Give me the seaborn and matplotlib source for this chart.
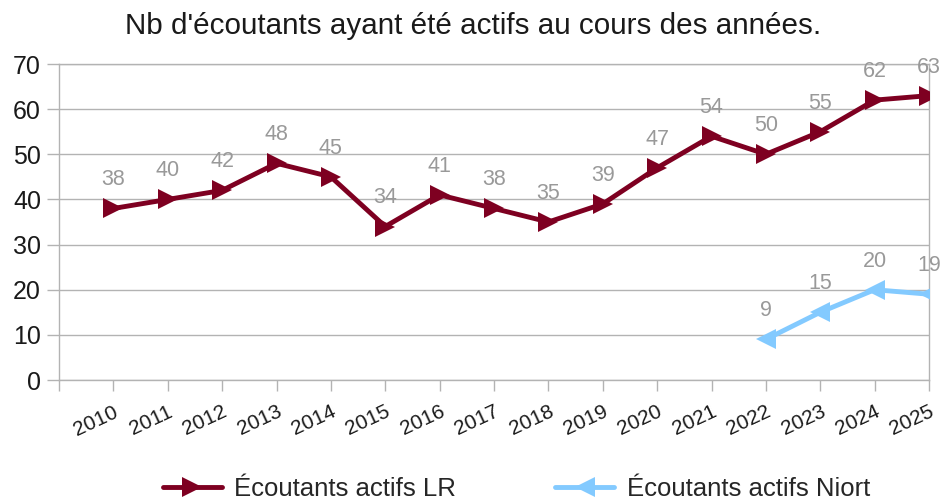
import matplotlib
matplotlib.use('Agg')
import matplotlib.pyplot as plt
import pandas as pd
import numpy as np
import seaborn as sns

years = [str(y) for y in range(2010, 2026)]
lr_values = [38, 40, 42, 48, 45, 34, 41, 38, 35, 39, 47, 54, 50, 55, 62, 63]
niort_values = [np.nan] * 12 + [9, 15, 20, 19]
series_names = ["Écoutants actifs LR", "Écoutants actifs Niort"]
title = "Nb d'écoutants ayant été actifs au cours des années."

sns.set_theme(style='white')
plt.rcParams['font.family'] = ['Liberation Sans', 'DejaVu Sans']

W, H = 946, 499
fig = plt.figure(figsize=(W / 100, H / 100), dpi=100)
left, right, top, bottom = 59, 929, 64, 380
ax = fig.add_axes([left / W, 1 - bottom / H, (right - left) / W, (bottom - top) / H])

df = pd.DataFrame({'idx': np.arange(len(years)), 'LR': lr_values, 'Niort': niort_values})

c_lr = '#7E0021'
c_ni = '#83CAFF'
sns.lineplot(data=df, x='idx', y='LR', ax=ax, color=c_lr, lw=3.5, marker='>',
             markersize=15, markeredgewidth=0, label=series_names[0], zorder=3)
sns.lineplot(data=df.dropna(), x='idx', y='Niort', ax=ax, color=c_ni, lw=3.5, marker='<',
             markersize=15, markeredgewidth=0, label=series_names[1], zorder=3)

for col in ['LR', 'Niort']:
    for i, v in zip(df['idx'], df[col]):
        if pd.notna(v):
            ax.annotate(f"{int(v)}", (i, v), xytext=(0, 13), textcoords='offset points',
                        ha='center', va='bottom', color='#999999', fontsize=15.5, zorder=4)

ax.set_xlim(-1, 15)
ax.set_ylim(0, 70)
ax.set_yticks(range(0, 71, 10))
ax.set_xticks(range(-1, 16))
ax.set_xticklabels([''] + years, rotation=25, ha='right', rotation_mode='anchor', fontsize=15)
ax.tick_params(axis='y', labelsize=18, length=9, color='#b3b3b3', width=1, pad=4, left=True)
ax.tick_params(axis='x', length=8, color='#b3b3b3', width=1, pad=8, bottom=True)
ax.grid(axis='y', color='#b3b3b3', lw=1)
ax.grid(axis='x', visible=False)
for s in ax.spines.values():
    s.set_color('#b3b3b3')
    s.set_linewidth(1)
ax.set_xlabel('')
ax.set_ylabel('')
for lbl in ax.get_yticklabels() + ax.get_xticklabels():
    lbl.set_color('#1a1a1a')

ax.get_legend().remove()
handles, labels = ax.get_legend_handles_labels()
fig.legend(handles, labels, loc='lower center', bbox_to_anchor=(0.546, -0.05), ncol=2,
           frameon=False, fontsize=18.5, columnspacing=3.85, handlelength=2.3, handletextpad=0.5)

fig.text(0.5, 0.948, title, ha='center', va='center', fontsize=21.3, color='#1a1a1a')

fig.savefig('out.png', dpi=100)
